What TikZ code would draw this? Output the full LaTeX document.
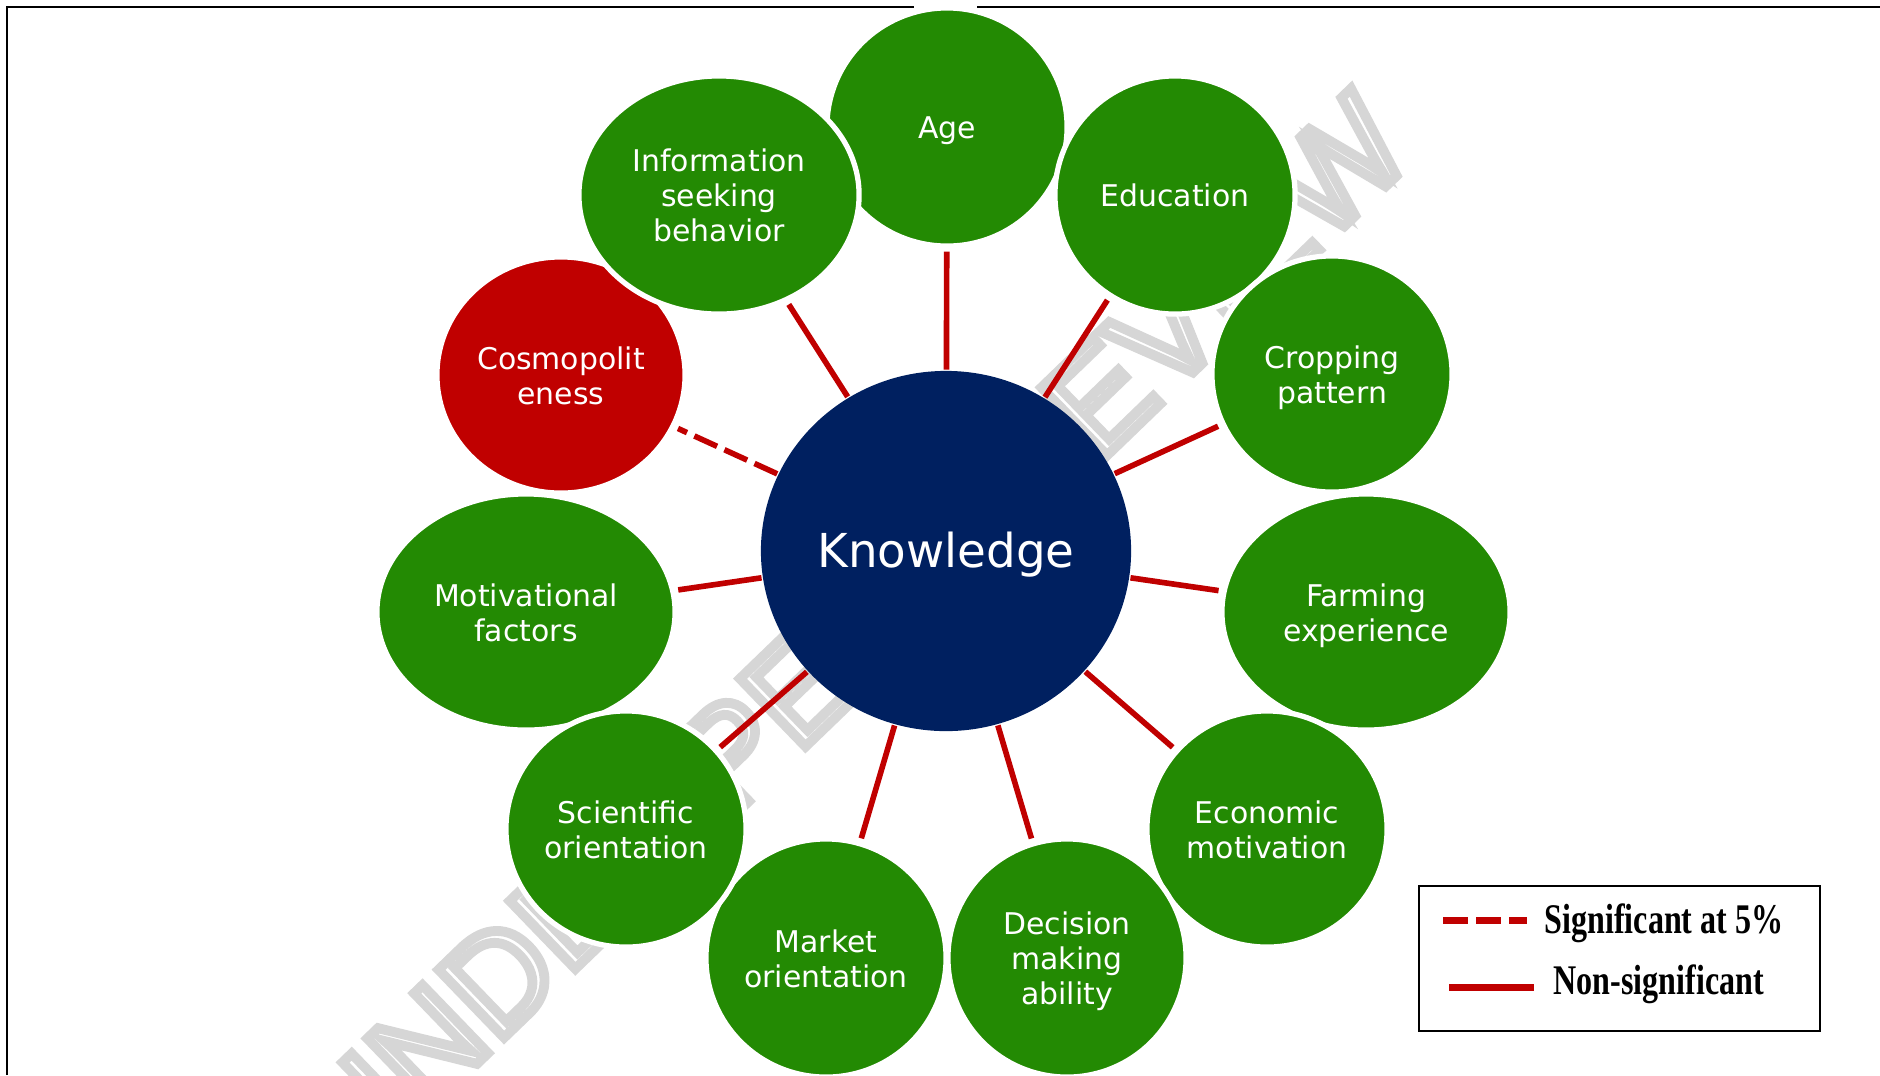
\documentclass[tikz,border=0pt]{standalone}
\usepackage{fontspec}
\usetikzlibrary{shapes.geometric}
\newfontfamily\bubfont{DejaVu Sans}
\newfontfamily\legfont{Liberation Serif}
\newfontfamily\wmfont{Liberation Sans}
\definecolor{bgreen}{RGB}{35,138,3}
\definecolor{bnavy}{RGB}{0,32,96}
\definecolor{bred}{RGB}{192,0,0}
\newcommand\bublines[2][-1.35pt]{\raisebox{#1}[\height][\depth]{\begin{tabular}{@{}c@{}}#2\end{tabular}}}
\newcommand\outlinetext[1]{\special{pdf:literal direct 1 Tr 2.8 w}#1\special{pdf:literal direct 0 Tr}}
\tikzset{
  bub/.style={ellipse, inner sep=0pt, outer sep=0pt, fill=bgreen, draw=white,
    line width=1.5pt, text=white,
    font=\bubfont\fontsize{8.5}{10}\selectfont},
  ns/.style={draw=bred, line width=1.6pt, shorten <=1.6pt, shorten >=0.4pt},
  sigdash/.style={draw=bred, line width=1.6pt, dash pattern=on 7.1pt off 2.3pt,
    shorten <=0.4pt, shorten >=1.6pt},
  legtext/.style={anchor=base west, inner sep=0pt, font=\legfont\bfseries\fontsize{12}{14}\selectfont},
  frame/.style={draw=black, line width=0.6pt}
}
\begin{document}
\begin{tikzpicture}[x=0.01cm, y=-0.01cm]
\useasboundingbox (0,0) rectangle (1880,1075);
% watermark
\node[rotate=44, text=black!16, inner sep=0pt, font=\wmfont\fontsize{39}{39}\selectfont] (wm) at (853,636) {\outlinetext{UNDER PEER REVIEW}};
% frame
\draw[frame] (7,1075) -- (7,7) -- (914,7);
\draw[frame] (977,7) -- (1880,7);
% bubbles
\node[bub, minimum width=2.40cm, minimum height=2.38cm] (age) at (947,127) {\bublines{Age}};
\node[bub, minimum width=2.40cm, minimum height=2.38cm] (edu) at (1175,195) {\bublines{Education}};
\node[bub, minimum width=2.40cm, minimum height=2.36cm] (crop) at (1332,374) {\bublines{Cropping\\pattern}};
\node[bub, minimum width=2.88cm, minimum height=2.36cm] (farm) at (1366,612) {\bublines{Farming\\experience}};
\node[bub, minimum width=2.40cm, minimum height=2.36cm] (econ) at (1267,829) {\bublines{Economic\\motivation}};
\node[bub, minimum width=2.40cm, minimum height=2.38cm] (market) at (826,958) {\bublines{Market\\orientation}};
\node[bub, minimum width=2.38cm, minimum height=2.38cm] (dec) at (1067,958) {\bublines{Decision\\making\\ability}};
\node[bub, minimum width=2.98cm, minimum height=2.36cm] (motiv) at (526,612) {\bublines{Motivational\\factors}};
\node[bub, minimum width=2.40cm, minimum height=2.36cm] (sci) at (626,829) {\bublines{Scientific\\orientation}};
\node[bub, fill=bred, minimum width=2.48cm, minimum height=2.36cm] (cosmo) at (561,375) {\bublines{Cosmopolit\\eness}};
\node[bub, minimum width=2.80cm, minimum height=2.38cm] (info) at (719,195) {\bublines{Information\\seeking\\behavior}};
\node[bub, fill=bnavy, line width=0pt, draw=none, minimum width=3.70cm, minimum height=3.60cm,
  font=\bubfont\fontsize{13.3}{15}\selectfont] (K) at (946,551) {\bublines[-1.7pt]{Knowledge}};
% connectors
\draw[ns] (age) -- (K);
\draw[ns] (info) -- (K);
\draw[ns] (edu) -- (K);
\draw[ns] (crop) -- (K);
\draw[ns] (motiv) -- (K);
\draw[ns] (farm) -- (K);
\draw[ns] (sci) -- (K);
\draw[ns] (econ) -- (K);
\draw[ns] (market) -- (K);
\draw[ns] (dec) -- (K);
\draw[sigdash] (K) -- (cosmo);
% legend
\node[draw=black, line width=0.6pt, minimum width=4.01cm, minimum height=1.45cm, inner sep=0pt, anchor=north west] (legbox) at (1418,885) {};
\coordinate (d1) at (1443,920);
\coordinate (d2) at (1527,920);
\coordinate (s1) at (1449,987);
\coordinate (s2) at (1534,987);
\draw[draw=bred, line width=2pt, dash pattern=on 7.1pt off 2.3pt] (d1) -- (d2);
\draw[draw=bred, line width=2pt] (s1) -- (s2);
\node[legtext] (lsig) at (1544,933) {\scalebox{0.76}[1]{Significant at 5\%}};
\node[legtext] (lns) at (1553,994) {\scalebox{0.76}[1]{Non-significant}};
\end{tikzpicture}
\end{document}
